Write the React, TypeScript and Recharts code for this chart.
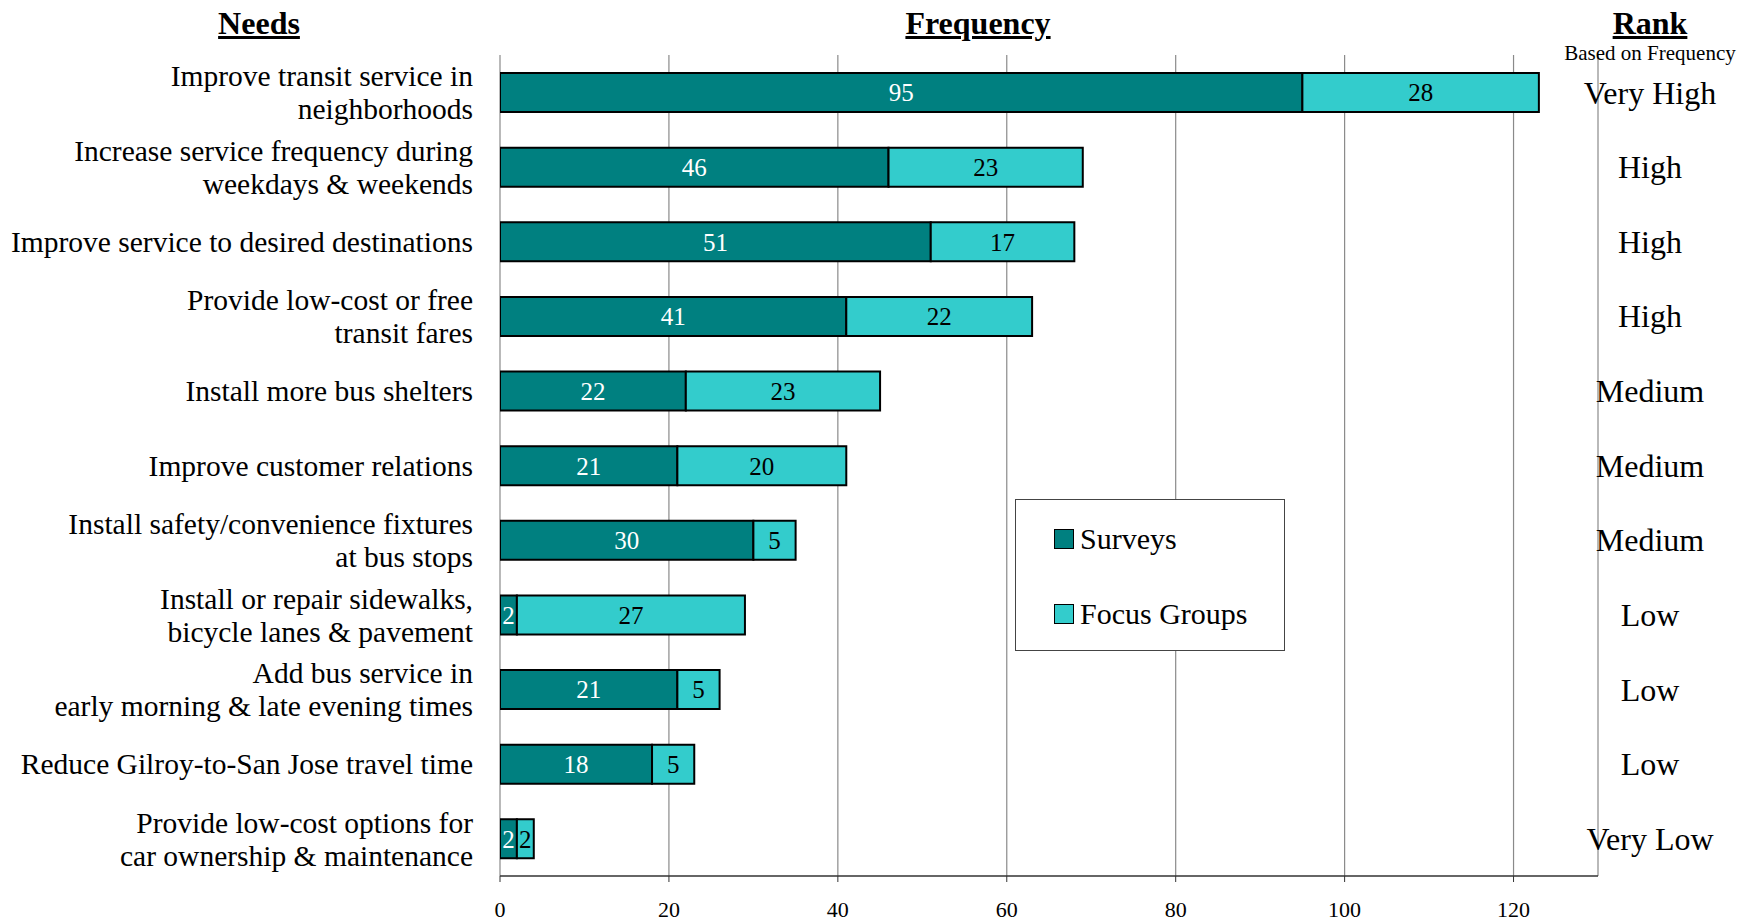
import React from "react";
import { BarChart, Bar, XAxis, YAxis, CartesianGrid, LabelList } from "recharts";

const needs: string[] = [
  "Improve transit service in\nneighborhoods",
  "Increase service frequency during\nweekdays & weekends",
  "Improve service to desired destinations",
  "Provide low-cost or free\ntransit fares",
  "Install more bus shelters",
  "Improve customer relations",
  "Install safety/convenience fixtures\nat bus stops",
  "Install or repair sidewalks,\nbicycle lanes & pavement",
  "Add bus service in\nearly morning & late evening times",
  "Reduce Gilroy-to-San Jose travel time",
  "Provide low-cost options for\ncar ownership & maintenance",
];
const surveys: number[] = [95, 46, 51, 41, 22, 21, 30, 2, 21, 18, 2];
const focusGroups: number[] = [28, 23, 17, 22, 23, 20, 5, 27, 5, 5, 2];
const ranks: string[] = ["Very High", "High", "High", "High", "Medium", "Medium", "Medium", "Low", "Low", "Low", "Very Low"];
const xTicks: number[] = [0, 20, 40, 60, 80, 100, 120];

const data = needs.map((n, i) => ({ need: n, surveys: surveys[i], focus: focusGroups[i] }));

const FONT = "'Liberation Serif', 'Times New Roman', serif";
const SURVEY_COLOR = "#008080";
const FOCUS_COLOR = "#33CCCC";

const LeftTick = (props: any) => {
  const { x, y, payload } = props;
  const lines = String(payload.value).split("\n");
  const lh = 33;
  const start = -((lines.length - 1) * lh) / 2;
  return (
    <text x={x} y={y} textAnchor="end" fontFamily={FONT} fontSize={29.5} fill="#000">
      {lines.map((l, i) => (
        <tspan key={i} x={x} y={y + start + i * lh} dy="0.35em">{l}</tspan>
      ))}
    </text>
  );
};

const RightTick = (props: any) => {
  const { x, y, index } = props;
  return (
    <text x={x + 52} y={y} dy="0.35em" textAnchor="middle" fontFamily={FONT} fontSize={32} fill="#000">
      {ranks[index]}
    </text>
  );
};

const legendItems = [
  { name: "Surveys", color: SURVEY_COLOR, top: 39 },
  { name: "Focus Groups", color: FOCUS_COLOR, top: 114 },
];

const headerStyle = (x: number, y: number, size: number, bold: boolean, underline: boolean): React.CSSProperties => ({
  position: "absolute",
  left: x,
  top: y,
  transform: "translate(-50%, -50%)",
  fontFamily: FONT,
  fontSize: size,
  fontWeight: bold ? "bold" : "normal",
  textDecoration: underline ? "underline" : "none",
  lineHeight: 1,
  whiteSpace: "nowrap",
  color: "#000",
});

export default function App() {
  return (
    <div style={{ position: "absolute", left: 0, top: 0, width: 1756, height: 924, background: "#fff" }}>
      <BarChart
        layout="vertical"
        width={1756}
        height={924}
        data={data}
        margin={{ top: 55, right: 0, bottom: 0, left: 0 }}
        barSize={39}
      >
        <CartesianGrid horizontal={false} vertical={true} stroke="#8a8a8a" strokeWidth={1.2} />
        <XAxis
          type="number"
          domain={[0, 130]}
          ticks={xTicks}
          height={48}
          tickSize={6}
          tickMargin={19}
          axisLine={{ stroke: "#333", strokeWidth: 1.5 }}
          tickLine={{ stroke: "#333" }}
          tick={{ fontFamily: FONT, fontSize: 22, fill: "#000" }}
          allowDataOverflow
        />
        <YAxis
          yAxisId="left"
          type="category"
          dataKey="need"
          width={500}
          axisLine={false}
          tickLine={false}
          tickSize={0}
          tickMargin={27}
          tick={<LeftTick />}
          interval={0}
        />
        <YAxis
          yAxisId="right"
          orientation="right"
          type="category"
          dataKey="need"
          width={158}
          axisLine={false}
          tickLine={false}
          tickSize={0}
          tickMargin={0}
          tick={<RightTick />}
          interval={0}
        />
        <Bar yAxisId="left" dataKey="surveys" name="Surveys" stackId="a" fill={SURVEY_COLOR} stroke="#000" strokeWidth={2} isAnimationActive={false}>
          <LabelList dataKey="surveys" position="center" fill="#fff" fontFamily={FONT} fontSize={25} />
        </Bar>
        <Bar yAxisId="left" dataKey="focus" name="Focus Groups" stackId="a" fill={FOCUS_COLOR} stroke="#000" strokeWidth={2} isAnimationActive={false}>
          <LabelList dataKey="focus" position="center" fill="#000" fontFamily={FONT} fontSize={25} />
        </Bar>
      </BarChart>
      <div style={{ position: "absolute", left: 1015, top: 499, width: 270, height: 152, boxSizing: "border-box", border: "1px solid #444", background: "#fff", fontFamily: FONT, fontSize: 30 }}>
        {legendItems.map((it) => (
          <div key={it.name} style={{ position: "absolute", left: 38, top: it.top, transform: "translateY(-50%)", display: "flex", alignItems: "center", lineHeight: 1, whiteSpace: "nowrap" }}>
            <span style={{ display: "inline-block", width: 18, height: 18, background: it.color, border: "1.5px solid #000", marginRight: 6 }} />
            <span>{it.name}</span>
          </div>
        ))}
      </div>
      <div style={headerStyle(259, 23, 32, true, true)}>Needs</div>
      <div style={headerStyle(978, 23, 32, true, true)}>Frequency</div>
      <div style={headerStyle(1650, 23, 32, true, true)}>Rank</div>
      <div style={headerStyle(1650, 53, 21, false, false)}>Based on Frequency</div>
    </div>
  );
}
